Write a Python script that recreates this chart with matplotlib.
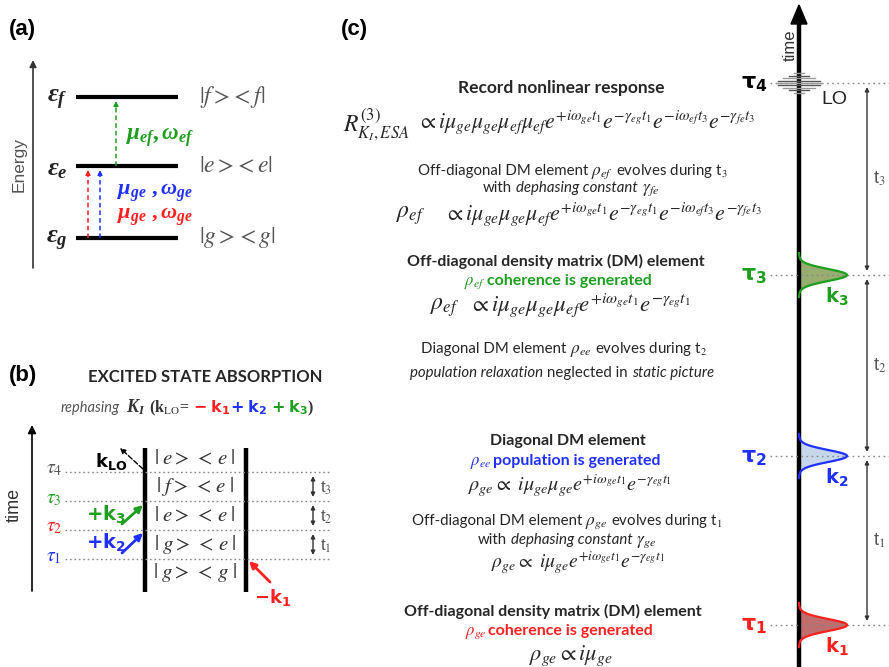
import numpy as np
import matplotlib.pyplot as plt

plt.rcParams['mathtext.fontset'] = 'stix'
# bold italic serif used for the level and dipole labels
plt.rcParams['mathtext.it'] = 'Liberation Serif:italic:bold'
plt.rcParams['mathtext.rm'] = 'Liberation Serif:bold'
plt.rcParams['mathtext.bf'] = 'Liberation Serif:bold'
plt.rcParams['font.family'] = ['Liberation Sans', 'DejaVu Sans']

RED, BLUE, GREEN = '#ff2020', '#2030ff', '#1e9e1e'
DARK, GRAY = '#262626', '#555555'
BODY = 'Lato'

# (a) energy levels, lowest first
level_names = ['g', 'e', 'f']
level_y = [238, 166, 97]
# (from level, to level, colour) for the three field interactions
transitions = [('g', 'e', RED), ('g', 'e', BLUE), ('e', 'f', GREEN)]
trans_x = [88, 100, 116]

# (b) double-sided Feynman diagram
b_tau_names = [r'$\tau_1$', r'$\tau_2$', r'$\tau_3$', r'$\tau_4$']
b_tau_y = [559, 530, 501, 472]
b_tau_colors = [BLUE, RED, GREEN, GRAY]
b_states = ['g', 'g', 'e', 'f', 'e']
b_states_right = ['g', 'e', 'e', 'e', 'e']
b_interval_names = ['t$_1$', 't$_2$', 't$_3$']

# (c) pulse sequence on the time axis
c_tau_y = [625, 456, 275, 83]
c_pulse_names = [r'$\mathbf{k_1}$', r'$\mathbf{k_2}$', r'$\mathbf{k_3}$']
c_pulse_edge = [RED, BLUE, GREEN]
c_pulse_fill = ['#b04848', '#b9cde6', '#7f9a4c']
c_tau_colors = [RED, BLUE, GREEN, 'black']

fig = plt.figure(figsize=(8.89, 6.67), dpi=100)
ax = fig.add_axes([0, 0, 1, 1])
ax.set_xlim(0, 889)
ax.set_ylim(667, 0)
ax.axis('off')
renderer = fig.canvas.get_renderer()


def run_line(x, y, parts, ha='center', **common):
    """Put text pieces of different style side by side on one baseline.
    A number in parts is a gap in pixels."""
    items = []
    for p in parts:
        if isinstance(p, (int, float)):
            items.append(p)
            continue
        txt, kw = p
        opts = dict(common)
        opts.update(kw)
        items.append(ax.text(0, y, txt, ha='left', va='baseline', **opts))
    widths = [p if isinstance(p, (int, float))
              else p.get_window_extent(renderer).width for p in items]
    cur = x - sum(widths) / 2 if ha == 'center' else x
    for p, w in zip(items, widths):
        if not isinstance(p, (int, float)):
            p.set_x(cur)
        cur += w


def arrow(p0, p1, color, lw=1.2, ms=10, style='-|>', ls='-'):
    ax.annotate('', xy=p1, xytext=p0,
                arrowprops=dict(arrowstyle=style, color=color, lw=lw,
                                mutation_scale=ms, linestyle=ls,
                                shrinkA=0, shrinkB=0))


# ---------------- (a) ----------------
ax.text(9, 29, '(a)', fontsize=16, fontweight='bold', va='center')
arrow((33, 268), (33, 60), '#333333', lw=1.2, ms=10)
ax.text(19, 165, 'Energy', rotation=90, fontsize=12.5, color=GRAY,
        ha='center', va='center')
kets_a = {}
for name, y in zip(level_names, level_y):
    kets_a[name] = y
    ax.plot([76, 178], [y, y], color='black', lw=3, solid_capstyle='butt')
    ax.text(68, y + 3, r'$\varepsilon_%s$' % name, fontsize=19,
            ha='right', va='center', color='#222222', math_fontfamily='custom')
    ax.text(199, y, r'$|%s>\!<%s|$' % (name, name), fontsize=17,
            color=GRAY, va='center')
for (lo, hi, c), x in zip(transitions, trans_x):
    y0, y1 = kets_a[lo], kets_a[hi] + 4
    ax.plot([x, x], [y0, y1 + 5], color=c, lw=1.1, ls=(0, (3, 2)))
    arrow((x, y1 + 6), (x, y1), c, lw=1, ms=7)
ax.text(126, 137, r'$\mu_{ef},\omega_{ef}$', fontsize=16.5, color=GREEN,
        va='center', math_fontfamily='custom')
ax.text(117, 193, r'$\mu_{ge}\ ,\omega_{ge}$', fontsize=16, color=BLUE,
        va='center', math_fontfamily='custom')
ax.text(117, 217, r'$\mu_{ge}\ ,\omega_{ge}$', fontsize=16, color=RED,
        va='center', math_fontfamily='custom')

# ---------------- (b) ----------------
ax.text(9, 376, '(b)', fontsize=16, fontweight='bold', va='center')
ax.text(205, 377, 'EXCITED STATE ABSORPTION', family=BODY, fontsize=12,
        fontweight='bold', color=DARK, ha='center', va='center')
run_line(187, 412, [
    ('rephasing', dict(family=BODY, fontstyle='italic', fontsize=10.5, color=GRAY)), 6,
    (r'$K_I$', dict(fontsize=13, color='#333333', math_fontfamily='custom')), 4,
    (r'(k$_{\rm LO}$=', dict(family='Liberation Serif', fontsize=11.5,
                             fontweight='bold', color='#333333')), 3,
    (r'$\mathbf{-\;k_1}$', dict(fontsize=11.5, color=RED, math_fontfamily='dejavusans')),
    (r'$\mathbf{+\;k_2}$', dict(fontsize=11.5, color=BLUE, math_fontfamily='dejavusans')), 3,
    (r'$\mathbf{+\;k_3}$', dict(fontsize=11.5, color=GREEN, math_fontfamily='dejavusans')),
    (')', dict(family='Liberation Serif', fontsize=11.5, fontweight='bold', color='#333333')),
])
arrow((32, 591), (32, 425), 'black', lw=1.2, ms=12)
ax.text(14, 505, 'time', rotation=90, fontsize=13, color='#333333',
        ha='center', va='center')
for x in (145, 246):
    ax.plot([x, x], [448, 592], color='black', lw=3.2, solid_capstyle='butt')
for name, y, c in zip(b_tau_names, b_tau_y, b_tau_colors):
    ax.plot([65, 330], [y, y], color='#888888', lw=1, ls=(0, (1.2, 2)))
    ax.text(54, y - 2, name, fontsize=14, color=c, ha='center', va='center')
b_state_y = [b_tau_y[0] + 14] + [(a + b) / 2 for a, b in zip(b_tau_y[:-1], b_tau_y[1:])] \
    + [b_tau_y[-1] - 13]
for l, r, y in zip(b_states, b_states_right, b_state_y):
    ax.text(195, y, r'$|\;%s>\,<\,%s\;|$' % (l, r), fontsize=15, color='#333333',
            ha='center', va='center')
for name, ya, yb in zip(b_interval_names, b_tau_y[:-1], b_tau_y[1:]):
    arrow((313, ya - 4), (313, yb + 4), '#333333', lw=1, ms=6, style='<|-|>')
    ax.text(320, (ya + yb) / 2 + 2, name, fontsize=12, color=GRAY, va='center')
ax.text(106, 515, r'$\mathbf{+k_3}$', fontsize=14, color=GREEN, ha='center',
        va='center', math_fontfamily='dejavusans')
arrow((122, 524), (143, 505), GREEN, lw=2, ms=10)
ax.text(106, 543, r'$\mathbf{+k_2}$', fontsize=14, color=BLUE, ha='center',
        va='center', math_fontfamily='dejavusans')
arrow((122, 553), (143, 533), BLUE, lw=2, ms=10)
ax.text(111, 461, r'$\mathbf{k_{LO}}$', fontsize=13, color='black', ha='center',
        va='center', math_fontfamily='dejavusans')
arrow((143, 469), (120, 448), 'black', lw=1, ms=8, ls='--')
ax.text(273, 598, r'$\mathbf{-k_1}$', fontsize=13, color=RED, ha='center',
        va='center', math_fontfamily='dejavusans')
arrow((270, 582), (249, 561), RED, lw=2, ms=10)

# ---------------- (c) ----------------
ax.text(341, 29, '(c)', fontsize=16, fontweight='bold', va='center')
AX_X = 799
ax.plot([AX_X, AX_X], [20, 667], color='black', lw=3.2, solid_capstyle='butt')
ax.fill([AX_X - 8, AX_X + 8, AX_X], [24, 24, 5], color='black')
ax.text(790, 45, 'time', rotation=90, fontsize=12, color='#333333',
        ha='center', va='center')

for i, (y, c) in enumerate(zip(c_tau_y, c_tau_colors)):
    ax.plot([770, 889], [y, y], color='#888888', lw=1, ls=(0, (1.2, 2.5)))
    ax.text(754, y + 1, r'$\mathbf{\tau_%d}$' % (i + 1),
            fontsize=16, color=c, ha='center', va='center',
            math_fontfamily='dejavusans')

# gaussian pump pulses
for y0, name, ec, fc in zip(c_tau_y[:3], c_pulse_names, c_pulse_edge, c_pulse_fill):
    yy = np.linspace(y0 - 22, y0 + 22, 80)
    xx = AX_X + 48 * np.exp(-((yy - y0) / 8.5) ** 2)
    ax.fill_betweenx(yy, AX_X, xx, color=fc, alpha=0.8, lw=0)
    ax.plot(xx, yy, color=ec, lw=1.6)
    ax.text(837, y0 + 22, name, fontsize=14, color=ec,
            ha='center', va='center', math_fontfamily='dejavusans')

# local oscillator wave packet
lo_y = c_tau_y[3]
for k in range(-4, 5):
    half = 23 * np.exp(-(k / 3.2) ** 2)
    ax.plot([AX_X - half, AX_X + half], [lo_y + 2.4 * k] * 2,
            color='#555555' if k % 2 else '#999999', lw=1)
ax.text(821, 99, 'LO', fontsize=14, color='#222222', va='center')

# delay intervals t1, t2, t3
for i, (ya, yb) in enumerate(zip(c_tau_y[:-1], c_tau_y[1:])):
    arrow((867, ya - 4), (867, yb + 4), '#333333', lw=1, ms=6, style='<|-|>')
    ax.text(873, (ya + yb) / 2, 't$_%d$' % (i + 1), fontsize=13, color=GRAY,
            va='center')

# response and density matrix elements
tx = dict(family=BODY, color=DARK)
bold = dict(fontsize=11.5, fontweight='bold')
ax.text(561, 88, 'Record nonlinear response', fontsize=12.5, fontweight='bold',
        ha='center', va='center', **tx)
ax.text(343, 125, r'$R^{(3)}_{K_I,ESA}$', fontsize=17, color=DARK, va='center')
ax.text(417, 122, r'$\propto i\mu_{ge}\mu_{ge}\mu_{ef}\mu_{ef}e^{+i\omega_{ge}t_1}'
        r'e^{-\gamma_{eg}t_1}e^{-i\omega_{ef}t_3}e^{-\gamma_{fe}t_3}$',
        fontsize=15.7, color=DARK, va='center')

run_line(573, 175, [('Off-diagonal DM element', dict(fontsize=10.8)), 3,
                    (r'$\rho_{ef}$', dict(fontsize=12.5)), 3,
                    ('evolves during t$_3$', dict(fontsize=10.8))], **tx)
run_line(571, 192, [('with', dict(fontsize=10.8)), 4,
                    ('dephasing constant', dict(fontsize=10.8, fontstyle='italic')), 4,
                    (r'$\gamma_{fe}$', dict(fontsize=12.5))], **tx)
ax.text(396, 216, r'$\rho_{ef}$', fontsize=17, color=DARK, va='center')
ax.text(444, 214, r'$\propto i\mu_{ge}\mu_{ge}\mu_{ef}e^{+i\omega_{ge}t_1}'
        r'e^{-\gamma_{eg}t_1}e^{-i\omega_{ef}t_3}e^{-\gamma_{fe}t_3}$',
        fontsize=15.8, color=DARK, va='center')

ax.text(556, 261, 'Off-diagonal density matrix (DM) element',
        ha='center', va='center', **bold, **tx)
run_line(558, 285, [(r'$\rho_{ef}$', dict(fontsize=12)), 2,
                    ('coherence is generated', bold)], family=BODY, color=GREEN)
ax.text(430, 308, r'$\rho_{ef}$', fontsize=17, color=DARK, va='center')
ax.text(469, 305, r'$\propto i\mu_{ge}\mu_{ge}\mu_{ef}e^{+i\omega_{ge}t_1}'
        r'e^{-\gamma_{eg}t_1}$', fontsize=16.5, color=DARK, va='center')

run_line(564, 353, [('Diagonal DM element', dict(fontsize=10.8)), 3,
                    (r'$\rho_{ee}$', dict(fontsize=12.5)), 3,
                    ('evolves during t$_2$', dict(fontsize=10.8))], **tx)
run_line(562, 377, [('population relaxation', dict(fontsize=10.8, fontstyle='italic')), 4,
                    ('neglected in', dict(fontsize=10.8)), 4,
                    ('static picture', dict(fontsize=10.8, fontstyle='italic'))], **tx)

ax.text(568, 441, 'Diagonal DM element', ha='center', va='center', **bold, **tx)
run_line(565, 465, [(r'$\rho_{ee}$', dict(fontsize=12)), 2,
                    ('population is generated', bold)], family=BODY, color=BLUE)
ax.text(570, 486, r'$\rho_{ge}\propto\ i\mu_{ge}\mu_{ge}e^{+i\omega_{ge}t_1}'
        r'e^{-\gamma_{eg}t_1}$', fontsize=14.5, color=DARK, ha='center', va='center')

run_line(567, 525, [('Off-diagonal DM element', dict(fontsize=10.8)), 3,
                    (r'$\rho_{ge}$', dict(fontsize=12.5)), 3,
                    ('evolves during t$_1$', dict(fontsize=10.8))], **tx)
run_line(567, 544, [('with', dict(fontsize=10.8)), 4,
                    ('dephasing constant', dict(fontsize=10.8, fontstyle='italic')), 4,
                    (r'$\gamma_{ge}$', dict(fontsize=12.5))], **tx)
ax.text(578, 563, r'$\rho_{ge}\propto\ i\mu_{ge}e^{+i\omega_{ge}t_1}'
        r'e^{-\gamma_{eg}t_1}$', fontsize=14, color=DARK, ha='center', va='center')

ax.text(553, 611, 'Off-diagonal density matrix (DM) element',
        ha='center', va='center', **bold, **tx)
run_line(559, 635, [(r'$\rho_{ge}$', dict(fontsize=12)), 2,
                    ('coherence is generated', bold)], family=BODY, color=RED)
ax.text(571, 656, r'$\rho_{ge}\propto i\mu_{ge}$', fontsize=16, color=DARK,
        ha='center', va='center')

fig.savefig('out.png', dpi=100)
